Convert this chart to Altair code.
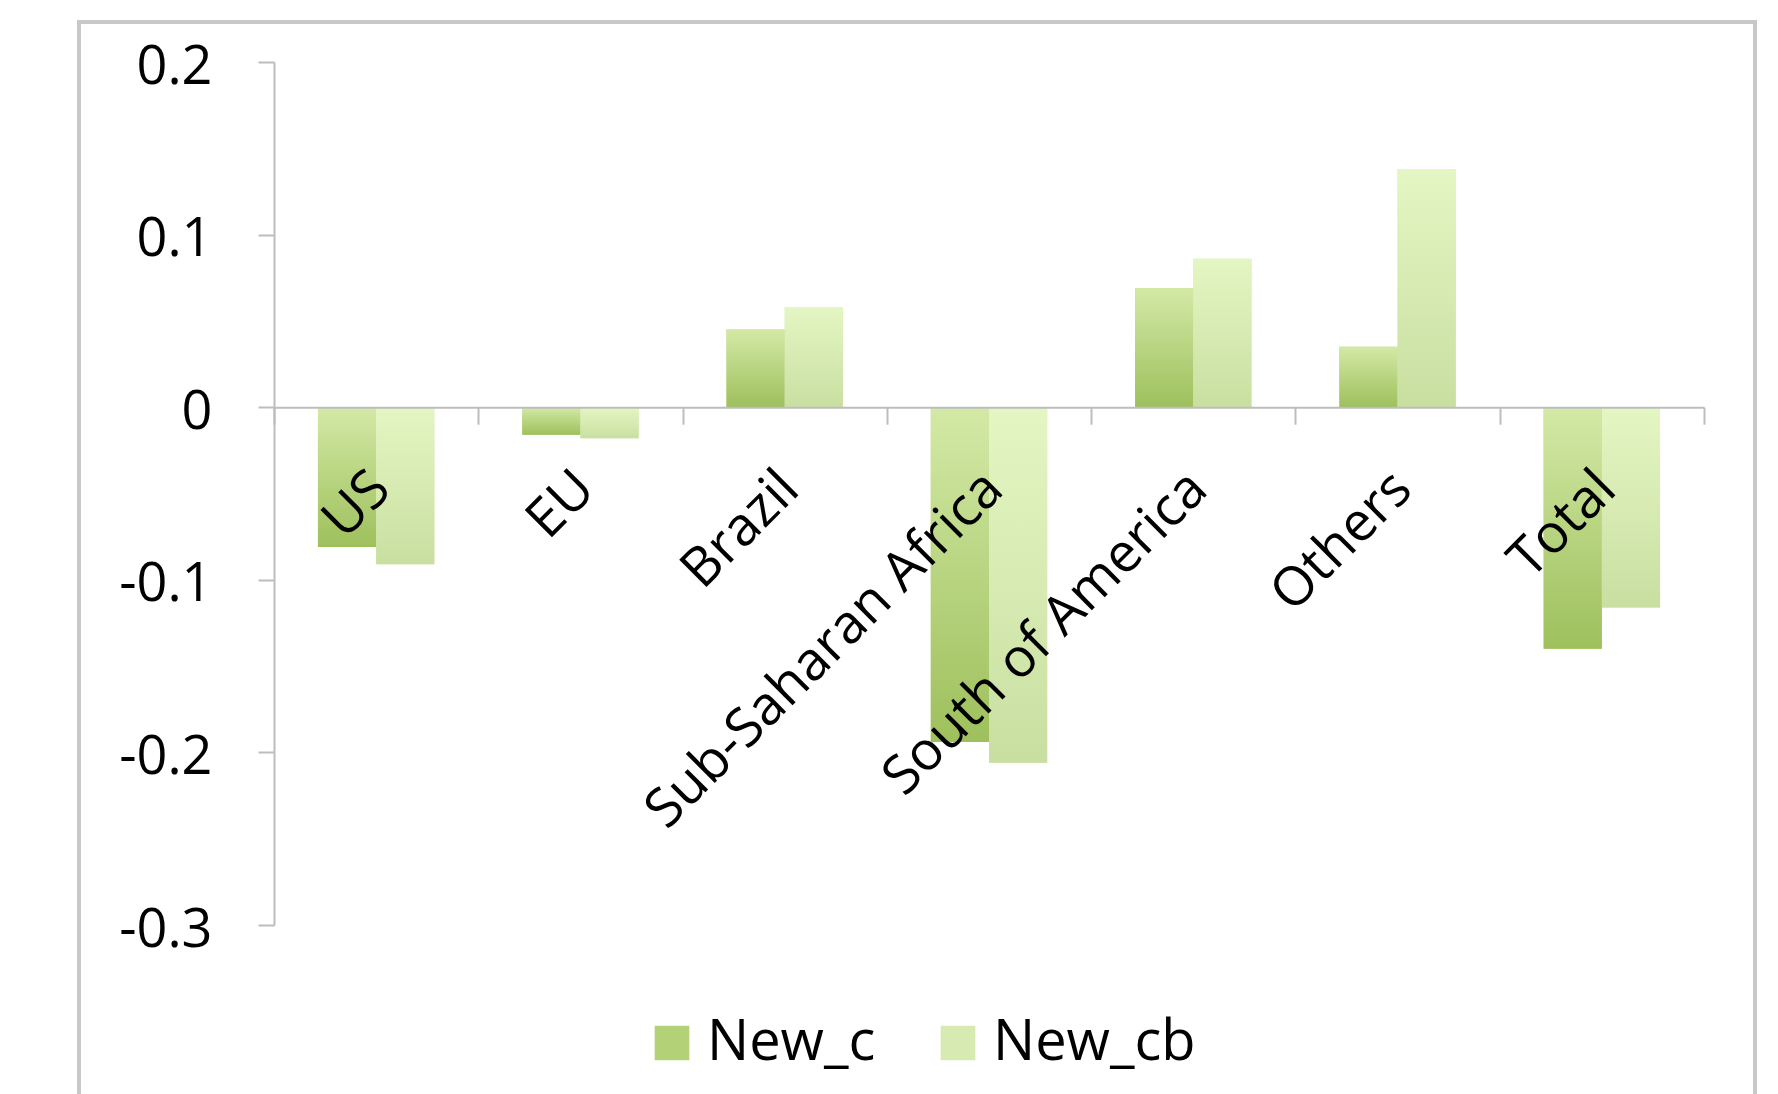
import altair as alt
import pandas as pd

regions = ["US", "EU", "Brazil", "Sub-Saharan Africa", "South of America", "Others", "Total"]
new_c = [-0.081, -0.016, 0.045, -0.194, 0.069, 0.035, -0.140]
new_cb = [-0.091, -0.018, 0.058, -0.206, 0.086, 0.138, -0.116]
series = ["New_c", "New_cb"]
y_ticks = [0.2, 0.1, 0, -0.1, -0.2, -0.3]
legend_colors = ["#b3d277", "#d6eab2"]

rows = []
for r, a, b in zip(regions, new_c, new_cb):
    rows.append({"region": r, "series": "New_c", "value": a})
    rows.append({"region": r, "series": "New_cb", "value": b})
df = pd.DataFrame(rows)

W, H = 1430, 863
FONT = "Open Sans"
GRAY = "#bdbdbd"

x_enc = alt.X(
    "region:N", sort=regions,
    scale=alt.Scale(paddingInner=0, paddingOuter=0),
    axis=alt.Axis(
        title=None, labelAngle=-45, labelAlign="right", labelBaseline="middle",
        labelFontSize=54, labelFont=FONT, labelColor="#000", labelPadding=56,
        labelOffset=5, labelLimit=2000, labelOverlap=False,
        tickSize=17, tickColor=GRAY, tickWidth=2, tickBand="extent",
        domainColor=GRAY, domainWidth=2, offset=-(H * 0.6), zindex=1,
    ),
)
xo_enc = alt.XOffset("series:N", sort=series,
                     scale=alt.Scale(paddingInner=0, paddingOuter=0.755))
y_enc = alt.Y(
    "value:Q",
    scale=alt.Scale(domain=[-0.3, 0.2], nice=False, zero=False),
    axis=alt.Axis(
        title=None, values=y_ticks, grid=False,
        labelExpr="toString(datum.value)",
        labelFontSize=54, labelFont=FONT, labelColor="#000", labelPadding=46,
        labelOffset=5,
        tickSize=16, tickColor=GRAY, tickWidth=2,
        domainColor=GRAY, domainWidth=2,
    ),
)

base = alt.Chart(df).mark_bar().encode(
    x=x_enc, xOffset=xo_enc, y=y_enc,
    color=alt.Color(
        "series:N", sort=series,
        scale=alt.Scale(domain=series, range=legend_colors),
        legend=alt.Legend(
            title=None, orient="none", legendX=370, legendY=953, direction="horizontal",
            symbolType="square", symbolSize=1200, symbolStrokeWidth=0,
            labelFontSize=56, labelFont=FONT, labelColor="#000", labelLimit=1000,
            labelOffset=7, columnPadding=54,
        ),
    ),
)

grad_c = alt.Gradient(
    gradient="linear", x1=0, y1=0, x2=0, y2=1,
    stops=[alt.GradientStop(color="#d3e9a6", offset=0),
           alt.GradientStop(color="#9ec05c", offset=1)],
)
grad_cb = alt.Gradient(
    gradient="linear", x1=0, y1=0, x2=0, y2=1,
    stops=[alt.GradientStop(color="#e4f6c3", offset=0),
           alt.GradientStop(color="#c9dfa1", offset=1)],
)

over_c = alt.Chart(df).transform_filter(alt.datum.series == "New_c").mark_bar(fill=grad_c).encode(
    x=alt.X("region:N", sort=regions), xOffset=alt.XOffset("series:N", sort=series), y="value:Q"
)
over_cb = alt.Chart(df).transform_filter(alt.datum.series == "New_cb").mark_bar(fill=grad_cb).encode(
    x=alt.X("region:N", sort=regions), xOffset=alt.XOffset("series:N", sort=series), y="value:Q"
)

frame = alt.Chart(pd.DataFrame({"a": [0]})).mark_rect(
    fill="#ffffff", fillOpacity=0, stroke="#c8c8c8", strokeWidth=4
).encode(
    x=alt.value(-195), x2=alt.value(1481), y=alt.value(-40), y2=alt.value(1100)
)

chart = alt.layer(frame, base, over_c, over_cb).properties(
    width=W, height=H,
    autosize=alt.AutoSizeParams(type="none"),
    padding={"left": 274, "top": 62, "right": 74, "bottom": 169},
    background="#ffffff",
).configure_view(stroke=None)

chart.save("out.html", embed_options={"renderer": "svg", "actions": False})
